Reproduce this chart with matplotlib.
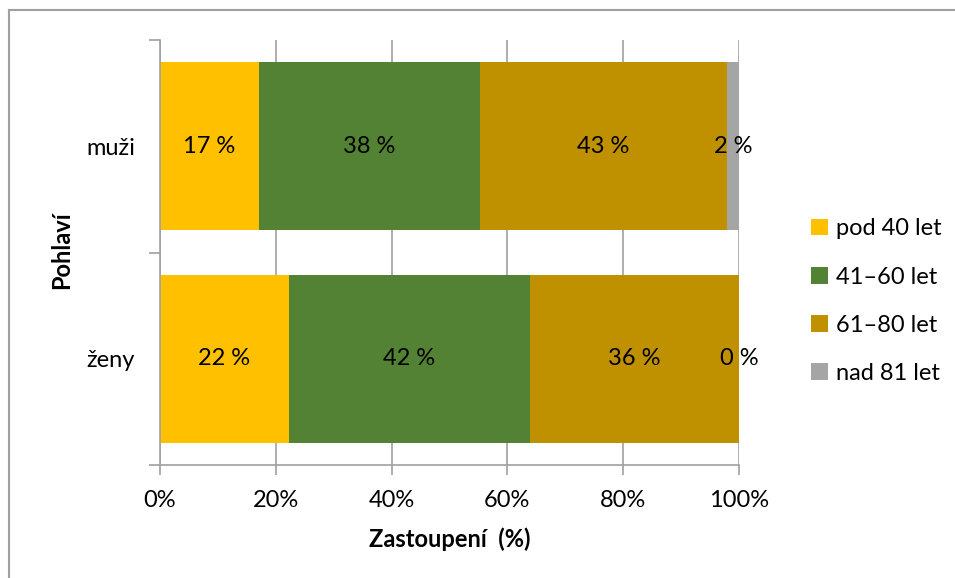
import matplotlib
matplotlib.use("Agg")
import matplotlib.pyplot as plt
from matplotlib.lines import Line2D

plt.rcParams['font.family'] = ['Lato', 'DejaVu Sans']

categories = ["ženy", "muži"]
series_names = ["pod 40 let", "41–60 let", "61–80 let", "nad 81 let"]
# values per series: [ženy, muži]
pod40 = [22.3, 17.1]
s41_60 = [41.6, 38.2]
s61_80 = [36.1, 42.6]
nad81 = [0.0, 2.1]
series = [pod40, s41_60, s61_80, nad81]
colors = ["#FFC000", "#548235", "#BF9000", "#A5A5A5"]
xticks = [0, 20, 40, 60, 80, 100]
xticklabels = ["0%", "20%", "40%", "60%", "80%", "100%"]

FS = 17
W, H = 955, 578
fig = plt.figure(figsize=(W / 100, H / 100), dpi=100)
ax = fig.add_axes([160 / W, (H - 465) / H, 579 / W, 425 / H])

grid_c = "#A0A0A0"
ypos = list(range(len(categories)))
left = [0.0] * len(categories)
for name, vals, c in zip(series_names, series, colors):
    ax.barh(ypos, vals, left=left, height=0.79, color=c, label=name, zorder=2)
    for y, l, v in zip(ypos, left, vals):
        ax.text(l + v / 2, y, f"{round(v)} %", ha="center", va="center",
                fontsize=FS, color="black", zorder=3)
    left = [a + b for a, b in zip(left, vals)]

ax.set_xlim(0, 100)
ax.set_ylim(-0.5, 1.5)
ax.set_xticks(xticks)
ax.set_xticklabels(xticklabels, fontsize=FS)
ax.xaxis.grid(True, color=grid_c, linewidth=1.2, zorder=0)
ax.set_axisbelow(True)
ax.tick_params(axis="x", length=7, width=1.2, color=grid_c, pad=11)

ax.set_yticks([-0.5, 0.5, 1.5])
ax.set_yticklabels([])
ax.tick_params(axis="y", which="major", length=8, width=1.2, color=grid_c)
ax.set_yticks(ypos, minor=True)
ax.set_yticklabels(categories, minor=True, fontsize=FS)
ax.tick_params(axis="y", which="minor", length=0, pad=18)

for s in ["top", "right"]:
    ax.spines[s].set_visible(False)
for s in ["left", "bottom"]:
    ax.spines[s].set_color(grid_c)
    ax.spines[s].set_linewidth(1.2)

ax.set_xlabel("Zastoupení  (%)", fontsize=FS, fontweight="bold", labelpad=12)
fig.text(62 / W, 1 - 250 / H, "Pohlaví", rotation=90, ha="center", va="center",
         fontsize=FS, fontweight="bold")

leg = fig.legend(loc="upper left", bbox_to_anchor=(802 / W, 1 - 209 / H),
                 frameon=False, fontsize=FS, handlelength=0.7, handleheight=0.7,
                 handletextpad=0.35, labelspacing=1.15, borderaxespad=0)

fig.add_artist(Line2D([9 / W, 9 / W], [0, 1 - 10 / H], color="#A0A0A0", linewidth=1.5,
                      transform=fig.transFigure))
fig.add_artist(Line2D([9 / W, 1], [1 - 10 / H, 1 - 10 / H], color="#A0A0A0", linewidth=1.5,
                      transform=fig.transFigure))

fig.savefig("out.png", dpi=100)
